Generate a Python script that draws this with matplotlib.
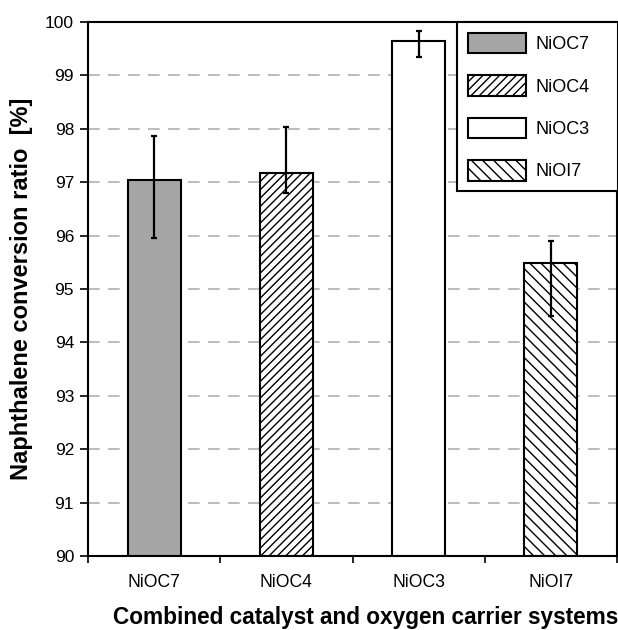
import matplotlib
matplotlib.use("Agg")
import matplotlib.pyplot as plt
import numpy as np

plt.rcParams["font.family"] = ["Liberation Sans", "DejaVu Sans"]
plt.rcParams["hatch.linewidth"] = 1.0

# ── Data ──────────────────────────────────────────────────────────────────────
systems = ["NiOC7", "NiOC4", "NiOC3", "NiOI7"]
conversion = [97.04, 97.17, 99.64, 95.48]
err_low = [95.95, 96.79, 99.34, 94.49]
err_high = [97.87, 98.04, 99.83, 95.90]

fills = ["#a6a6a6", "white", "white", "white"]
hatches = ["", "////", "", "\\\\\\"]

# ── Plot ──────────────────────────────────────────────────────────────────────
fig = plt.figure(figsize=(6.18, 6.30), dpi=100)
ax = fig.add_axes([0.1424, 0.1175, 0.856, 0.8475])

x = np.arange(len(systems))
yerr = [np.array(conversion) - np.array(err_low),
        np.array(err_high) - np.array(conversion)]

for xi, v, fc, h, lab in zip(x, conversion, fills, hatches, systems):
    ax.bar(xi, v - 90, bottom=90, width=0.40, color=fc, edgecolor="black",
           linewidth=1.5, hatch=h, label=lab, zorder=2)

ax.errorbar(x, conversion, yerr=yerr, fmt="none", ecolor="black",
            elinewidth=1.6, capsize=2.3, capthick=1.6, zorder=3)

ax.set_xlim(-0.5, 3.5)
ax.set_ylim(90, 100)
ax.set_yticks(range(90, 101))
ax.set_xticks(x)
ax.set_xticklabels(systems)
ax.set_xticks(np.arange(-0.5, 4.0, 1.0), minor=True)
ax.tick_params(axis="x", which="major", length=0, pad=13, labelsize=12.7)
ax.tick_params(axis="x", which="minor", length=5, width=1.2, direction="out")
ax.tick_params(axis="y", length=6, width=1.2, direction="out", labelsize=12.5, pad=4)

for yv in range(91, 100):
    ax.axhline(yv, color="#b0b0b0", linewidth=1.2, linestyle=(0, (7, 5)), zorder=1)

for sp in ax.spines.values():
    sp.set_linewidth(1.5)

ax.set_ylabel("Naphthalene conversion ratio  [%]", fontsize=17,
              fontweight="bold", labelpad=9)
ax.set_xlabel("Combined catalyst and oxygen carrier systems", fontsize=16.3,
              fontweight="bold")
ax.xaxis.set_label_coords(0.525, -0.093)

# legend box stretched to the reference's width (left edge ~457 px)
leg = ax.legend(loc="upper right", bbox_to_anchor=(0.6975, 0.0, 0.3045, 1.0),
                mode="expand", borderaxespad=0,
                fontsize=13, handlelength=3.2, handleheight=1.35,
                labelspacing=1.23, borderpad=0.6, handletextpad=0.55,
                fancybox=False, framealpha=1, edgecolor="black")
leg.get_frame().set_linewidth(1.5)

fig.savefig("out.png", dpi=100)
